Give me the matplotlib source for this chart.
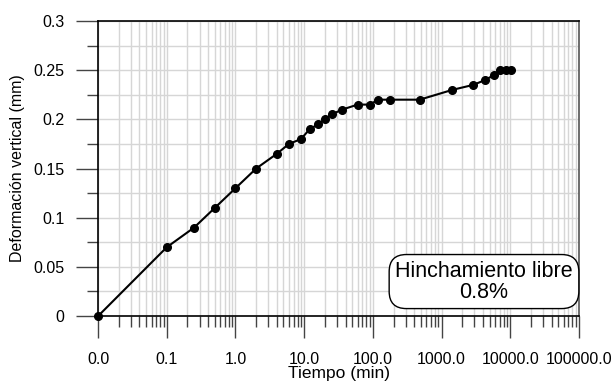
import matplotlib
matplotlib.use("Agg")
import matplotlib.pyplot as plt
from matplotlib.ticker import FixedLocator, FixedFormatter, MultipleLocator, LogLocator, NullFormatter

plt.rcParams['font.family'] = ['Liberation Sans', 'DejaVu Sans']

tiempo = [0.01, 0.1, 0.25, 0.5, 1, 2, 4, 6, 9, 12, 16, 20, 25, 36, 60, 90, 120, 180,
          480, 1440, 2880, 4320, 5760, 7200, 8640, 10080]
deformacion = [0.0, 0.07, 0.09, 0.11, 0.13, 0.15, 0.165, 0.175, 0.18, 0.19, 0.195, 0.2,
               0.205, 0.21, 0.215, 0.215, 0.22, 0.22, 0.22, 0.23, 0.235, 0.24, 0.245,
               0.25, 0.25, 0.25]
x_ticks = [0.01, 0.1, 1, 10, 100, 1000, 10000, 100000]
x_labels = ["0.0", "0.1", "1.0", "10.0", "100.0", "1000.0", "10000.0", "100000.0"]
y_ticks = [0, 0.05, 0.1, 0.15, 0.2, 0.25, 0.3]
y_labels = ["0", "0.05", "0.1", "0.15", "0.2", "0.25", "0.3"]

fig = plt.figure(figsize=(6.13, 3.85), dpi=100)
ax = fig.add_axes([0.16, 0.179, 0.7845, 0.7665])

ax.set_xscale('log')
ax.set_xlim(0.01, 100000)
ax.set_ylim(0, 0.3)

ax.xaxis.set_major_locator(FixedLocator(x_ticks))
ax.xaxis.set_major_formatter(FixedFormatter(x_labels))
ax.xaxis.set_minor_locator(LogLocator(base=10, subs=range(2, 10), numticks=20))
ax.xaxis.set_minor_formatter(NullFormatter())
ax.yaxis.set_major_locator(FixedLocator(y_ticks))
ax.yaxis.set_major_formatter(FixedFormatter(y_labels))
ax.yaxis.set_minor_locator(MultipleLocator(0.025))

ax.grid(True, which='both', color='#d6d6d6', linewidth=1.0)
ax.set_axisbelow(True)

ax.plot(tiempo, deformacion, color='black', linewidth=1.5, marker='o',
        markersize=5.5, clip_on=False, zorder=5)

ax.tick_params(axis='both', which='major', direction='out', length=16, width=1,
               color='#444444', labelsize=11.5)
ax.tick_params(axis='y', which='minor', direction='out', length=8, width=1, color='#444444')
ax.tick_params(axis='x', which='minor', direction='out', length=8, width=1, color='#444444')
ax.tick_params(axis='y', which='major', pad=8)
ax.tick_params(axis='x', which='major', pad=10)

for s in ['left', 'bottom', 'top']:
    ax.spines[s].set_color('black')
    ax.spines[s].set_linewidth(1.2)
ax.spines['right'].set_color('#555555')
ax.spines['right'].set_linewidth(1.2)

ax.set_xlabel('Tiempo (min)', fontsize=12.5, labelpad=-1)
ax.set_ylabel('Deformación vertical (mm)', fontsize=11.5, labelpad=6)

ax.text(0.8025, 0.117, 'Hinchamiento libre\n0.8%', transform=ax.transAxes,
        ha='center', va='center', fontsize=15.5, linespacing=1.0,
        bbox=dict(boxstyle='round,pad=0.28,rounding_size=0.8', facecolor='white',
                  edgecolor='black', linewidth=1.0), zorder=6)

fig.savefig('out.png', dpi=100)
